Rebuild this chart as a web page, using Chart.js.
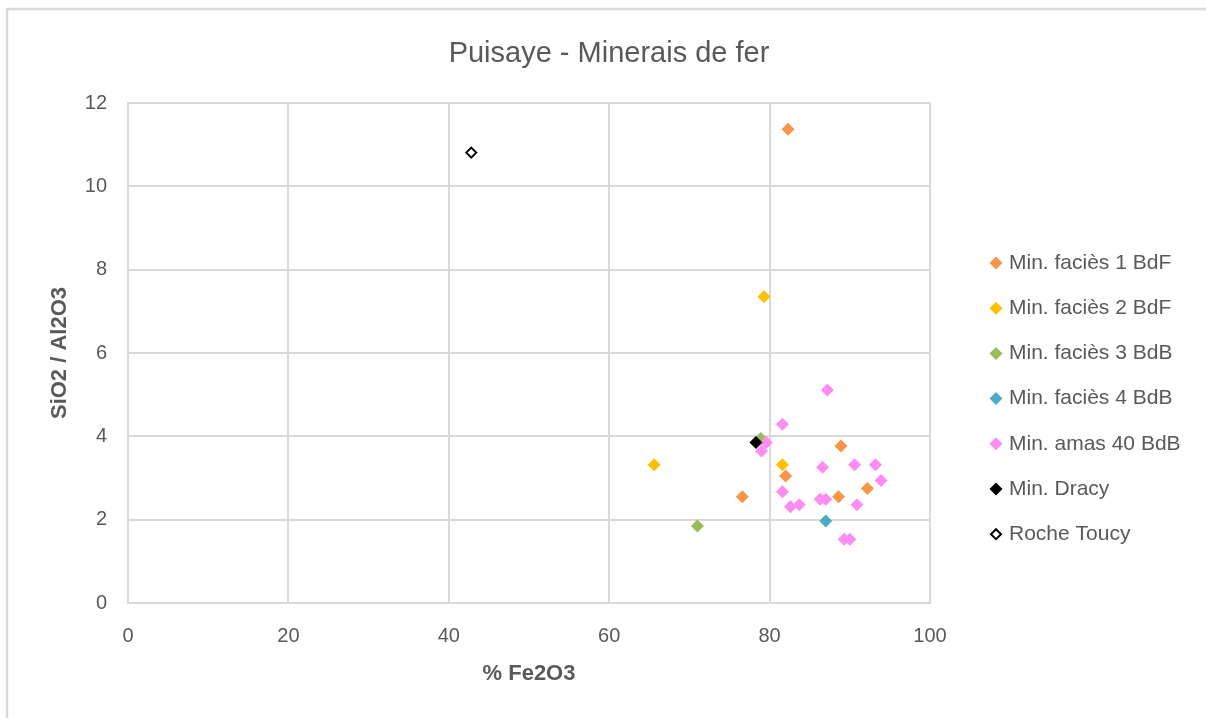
<!DOCTYPE html>
<html>
<head>
<meta charset="utf-8">
<script src="https://cdn.jsdelivr.net/npm/chart.js"></script>
<style>
  body { margin: 0; background: #fff; }
  canvas { display: block; }
</style>
</head>
<body>
<canvas id="myChart" width="1206" height="718"></canvas>
<script>
// séries : % Fe2O3 (x) / rapport SiO2 / Al2O3 (y)
const chartTitle = 'Puisaye - Minerais de fer';
const seriesNames = [
  'Min. faciès 1 BdF',
  'Min. faciès 2 BdF',
  'Min. faciès 3 BdB',
  'Min. faciès 4 BdB',
  'Min. amas 40 BdB',
  'Min. Dracy',
  'Roche Toucy',
];
const seriesColors = ['#F79646', '#FFC000', '#9BBB59', '#4BACC6', '#FF8CF2', '#000000', '#000000'];

const facies1 = [
  {x: 82.3, y: 11.37}, {x: 88.9, y: 3.77}, {x: 82.0, y: 3.05},
  {x: 92.2, y: 2.75}, {x: 76.6, y: 2.55}, {x: 88.6, y: 2.55},
];
const facies2 = [{x: 79.3, y: 7.35}, {x: 65.6, y: 3.32}, {x: 81.6, y: 3.32}];
const facies3 = [{x: 78.9, y: 3.95}, {x: 71.0, y: 1.85}];
const facies4 = [{x: 87.0, y: 1.97}];
const amas40 = [
  {x: 87.2, y: 5.11}, {x: 81.6, y: 4.29}, {x: 79.6, y: 3.85}, {x: 79.0, y: 3.65},
  {x: 86.6, y: 3.26}, {x: 90.6, y: 3.32}, {x: 93.2, y: 3.32}, {x: 93.9, y: 2.94},
  {x: 81.6, y: 2.67}, {x: 86.3, y: 2.49}, {x: 87.0, y: 2.49}, {x: 82.6, y: 2.31},
  {x: 83.7, y: 2.36}, {x: 90.9, y: 2.36}, {x: 89.3, y: 1.53}, {x: 90.0, y: 1.53},
];
const dracy = [{x: 78.3, y: 3.85}];
const toucy = [{x: 42.8, y: 10.81}];

const xTicks = [0, 20, 40, 60, 80, 100];
const yTicks = [0, 2, 4, 6, 8, 10, 12];

const allSeries = [facies1, facies2, facies3, facies4, amas40, dracy, toucy];

const FONT = "'Liberation Sans', Arial, sans-serif";
const TEXT = '#595959';
const GRID = '#D9D9D9';

const datasets = allSeries.map((pts, i) => {
  const hollow = i === allSeries.length - 1;
  return {
    label: seriesNames[i],
    data: pts,
    pointStyle: 'rectRot',
    pointRadius: hollow ? 5 : 6.5,
    pointHoverRadius: hollow ? 5 : 6.5,
    backgroundColor: hollow ? '#ffffff' : seriesColors[i],
    borderColor: seriesColors[i],
    borderWidth: hollow ? 2 : 0,
    // les séries suivantes passent par-dessus
    order: allSeries.length - i,
  };
});

// cadre, titre et légende à droite
const frameAndLegend = {
  id: 'frameAndLegend',
  beforeDraw(chart) {
    const c = chart.ctx;
    c.save();
    c.fillStyle = '#ffffff';
    c.fillRect(0, 0, chart.width, chart.height);
    c.strokeStyle = GRID;
    c.lineWidth = 2.5;
    c.strokeRect(7, 9, chart.width + 10, chart.height + 10);

    c.fillStyle = TEXT;
    c.font = '29px ' + FONT;
    c.textAlign = 'center';
    c.textBaseline = 'alphabetic';
    c.fillText(chartTitle, 609, 62);
    c.restore();
  },
  afterDraw(chart) {
    const c = chart.ctx;
    c.save();
    c.font = '21px ' + FONT;
    c.textBaseline = 'middle';
    datasets.forEach((ds, i) => {
      const y = 263 + i * 45.2;
      const x = 996;
      const r = i === datasets.length - 1 ? 5 : 6.5;
      c.beginPath();
      c.moveTo(x, y - r);
      c.lineTo(x + r, y);
      c.lineTo(x, y + r);
      c.lineTo(x - r, y);
      c.closePath();
      c.fillStyle = ds.backgroundColor;
      c.fill();
      if (ds.borderWidth) {
        c.lineWidth = ds.borderWidth;
        c.strokeStyle = ds.borderColor;
        c.stroke();
      }
      c.fillStyle = TEXT;
      c.fillText(ds.label, 1009, y);
    });
    c.restore();
  },
};

const ctx = document.getElementById('myChart');

new Chart(ctx, {
  type: 'scatter',
  data: {datasets},
  options: {
    responsive: false,
    animation: false,
    events: [],
    layout: {
      padding: {left: 36, right: 276, top: 103, bottom: 20},
    },
    plugins: {
      legend: {display: false},
      tooltip: {enabled: false},
      title: {display: false},
    },
    scales: {
      x: {
        type: 'linear',
        min: xTicks[0],
        max: xTicks[xTicks.length - 1],
        afterBuildTicks: axis => {
          axis.ticks = xTicks.map(v => ({value: v}));
        },
        afterFit: axis => {
          axis.height = 718 - 603 - 20;
        },
        grid: {color: GRID, lineWidth: 2, drawTicks: false},
        border: {color: GRID, width: 2},
        ticks: {
          color: TEXT,
          padding: 21,
          font: {family: FONT, size: 20},
        },
        title: {
          display: true,
          text: '% Fe2O3',
          color: TEXT,
          font: {family: FONT, size: 22, weight: 'bold', lineHeight: 1.2},
          padding: {top: 0, bottom: 11},
        },
      },
      y: {
        type: 'linear',
        min: yTicks[0],
        max: yTicks[yTicks.length - 1],
        afterBuildTicks: axis => {
          axis.ticks = yTicks.map(v => ({value: v}));
        },
        afterFit: axis => {
          axis.width = 128 - 36;
        },
        grid: {color: GRID, lineWidth: 2, drawTicks: false},
        border: {color: GRID, width: 2},
        ticks: {
          color: TEXT,
          padding: 21,
          font: {family: FONT, size: 20},
        },
        title: {
          display: true,
          text: 'SiO2 / Al2O3',
          color: TEXT,
          font: {family: FONT, size: 22, weight: 'bold', lineHeight: 1.2},
          padding: {top: 11, bottom: 0},
        },
      },
    },
  },
  plugins: [frameAndLegend],
});
</script>
</body>
</html>
